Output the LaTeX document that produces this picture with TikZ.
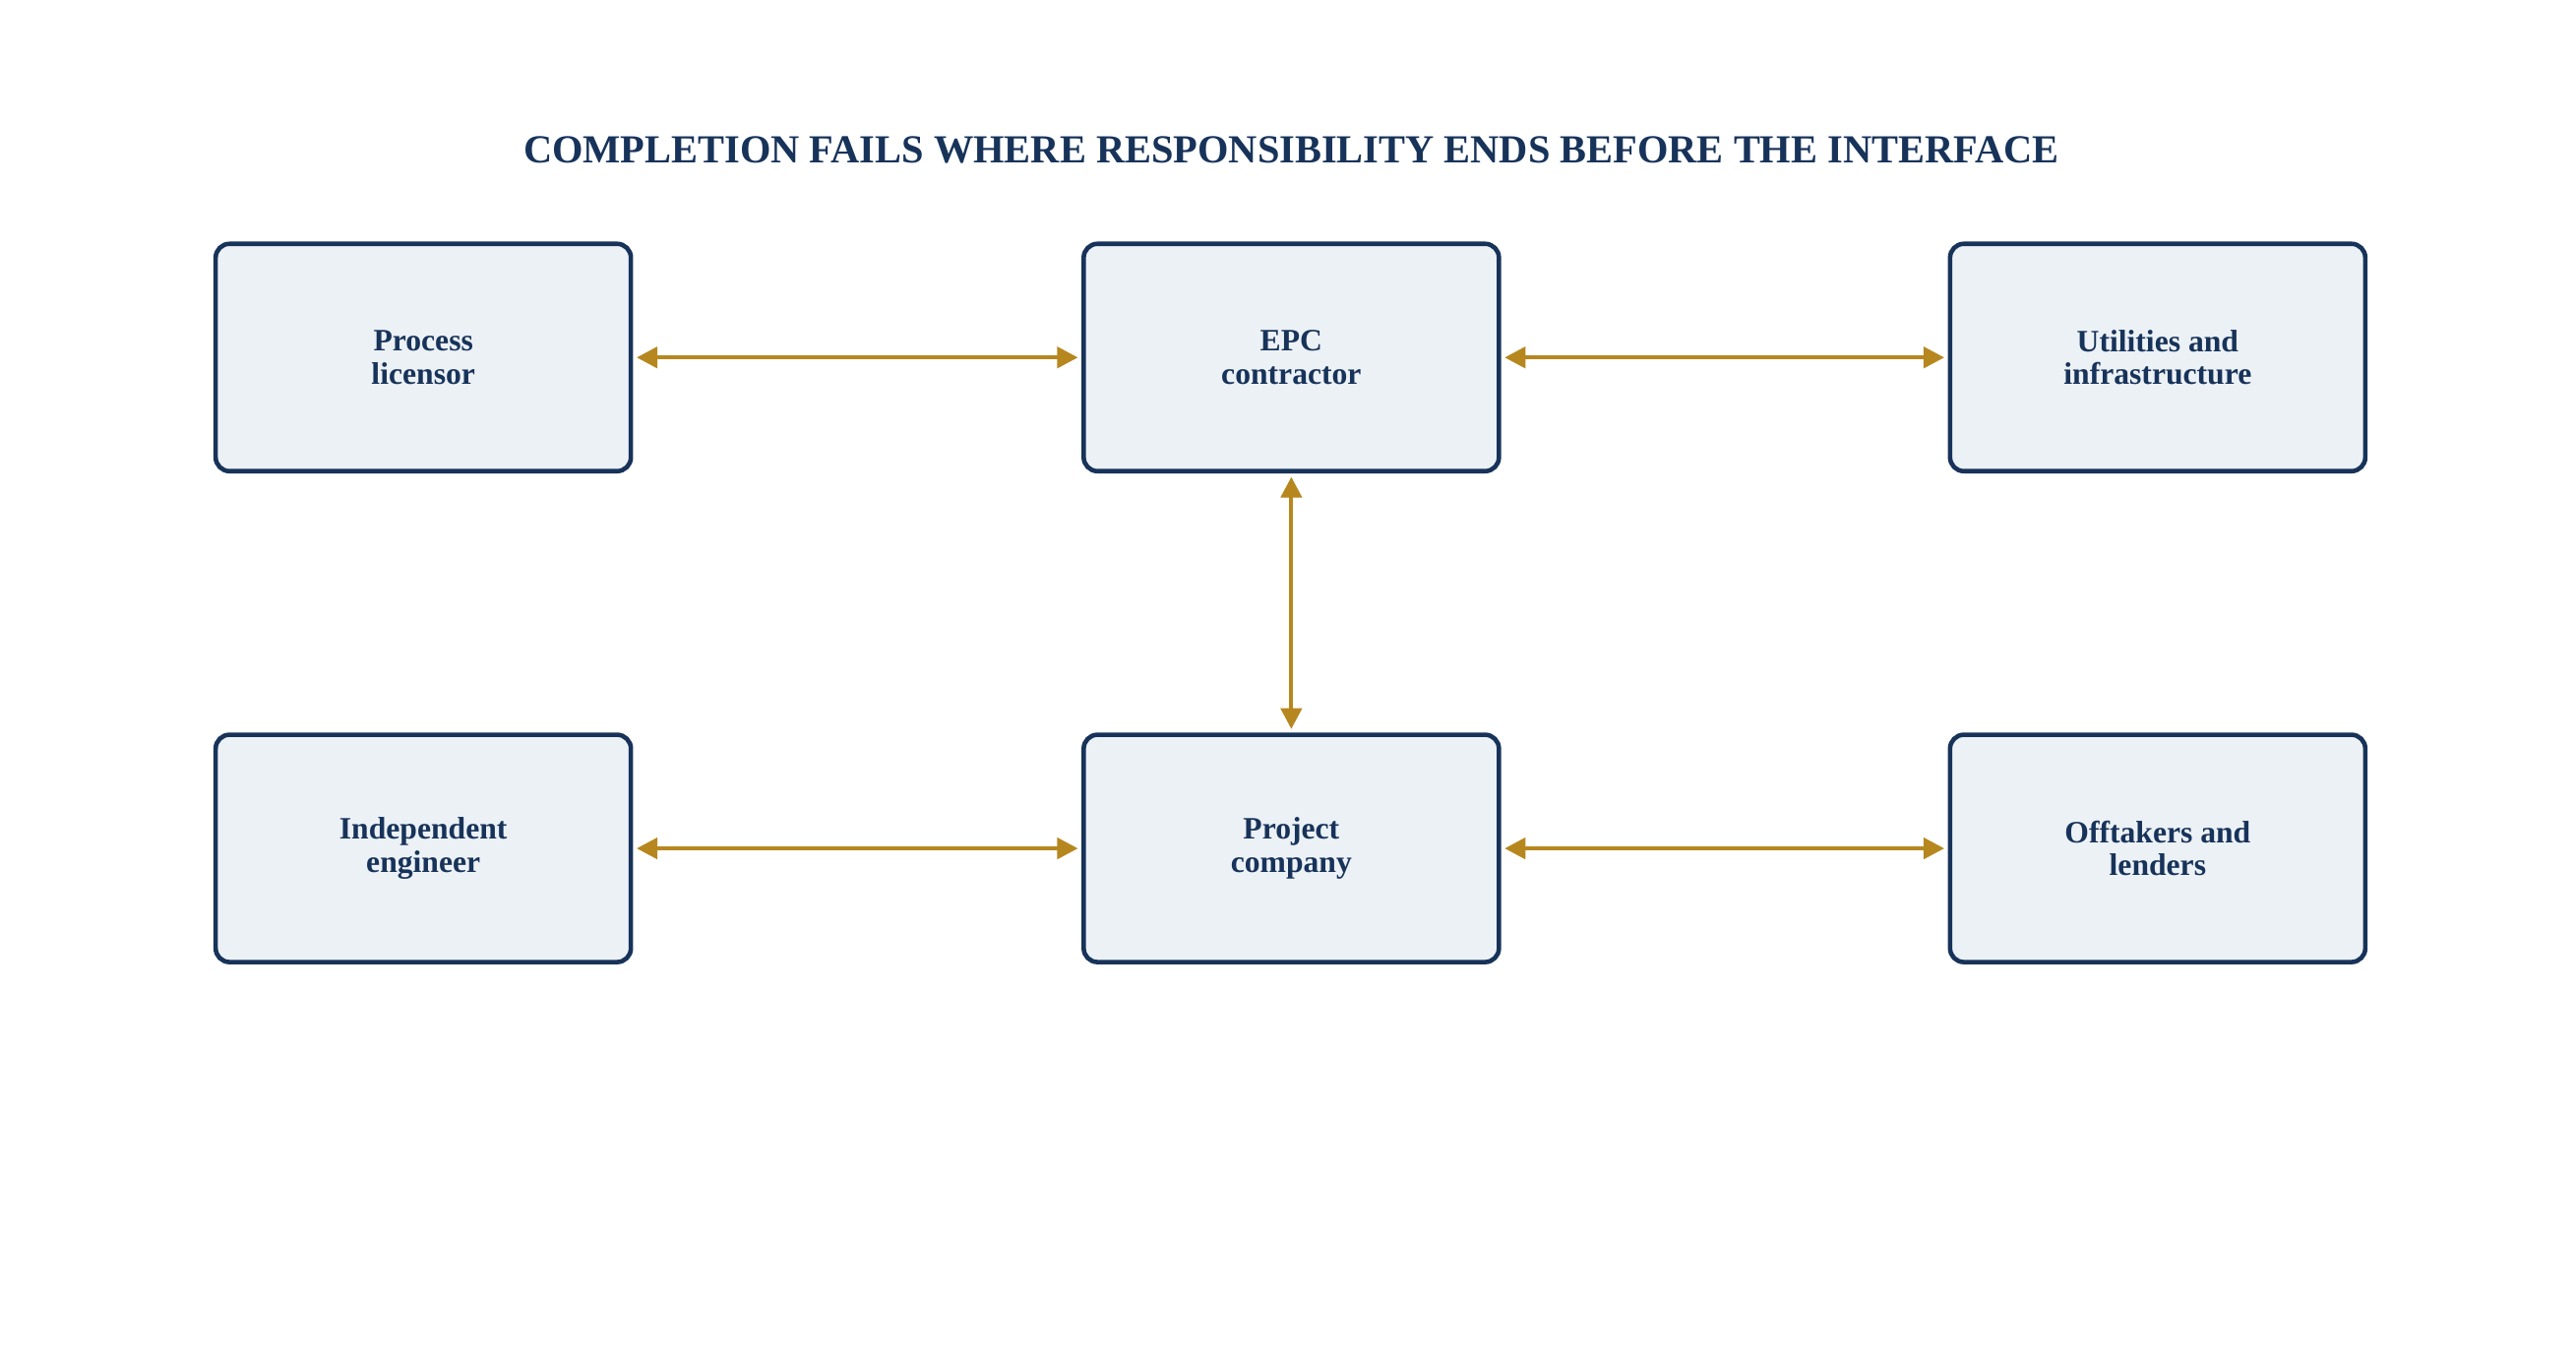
\documentclass[tikz,border=0pt]{standalone}
\usepackage{fontspec}
\setmainfont{Liberation Serif}
\usetikzlibrary{arrows.meta}
\definecolor{navy}{HTML}{17335A}
\definecolor{boxfill}{HTML}{ECF1F6}
\definecolor{gold}{HTML}{B7871F}
\tikzset{party/.style={draw=navy, fill=boxfill, line width=1.3pt, rounded corners=4pt, minimum width=4.22cm, minimum height=2.31cm, align=center, text=navy, font=\bfseries\fontsize{9}{9.5}\selectfont},
	link/.style={draw=gold, line width=1.2pt, {Triangle[length=6pt,width=6pt]}-{Triangle[length=6pt,width=6pt]}, shorten <=1pt, shorten >=1pt}
}
\begin{document}
\begin{tikzpicture}[x=0.01674cm, y=-0.01674cm]
				\useasboundingbox (0,0) rectangle (1564,828);
				\node[text=navy, font=\bfseries\fontsize{11.5}{12}\selectfont] (title) at (784,91) {COMPLETION FAILS WHERE RESPONSIBILITY ENDS BEFORE THE INTERFACE};
				\node[party] (licensor) at (257,217) {Process\\licensor};
				\node[party] (epc) at (784,217) {EPC\\contractor};
				\node[party] (utilities) at (1310,217) {Utilities and\\infrastructure};
				\node[party] (engineer) at (257,515) {Independent\\engineer};
				\node[party] (company) at (784,515) {Project\\company};
				\node[party] (offtakers) at (1310,515) {Offtakers and\\lenders};
				
				% draw links
				\draw[link] (licensor) -- (epc);
				\draw[link] (epc) -- (utilities);
				\draw[link] (epc) -- (company);
				\draw[link] (engineer) -- (company);
				\draw[link] (company) -- (offtakers);
			\end{tikzpicture}
\end{document}
